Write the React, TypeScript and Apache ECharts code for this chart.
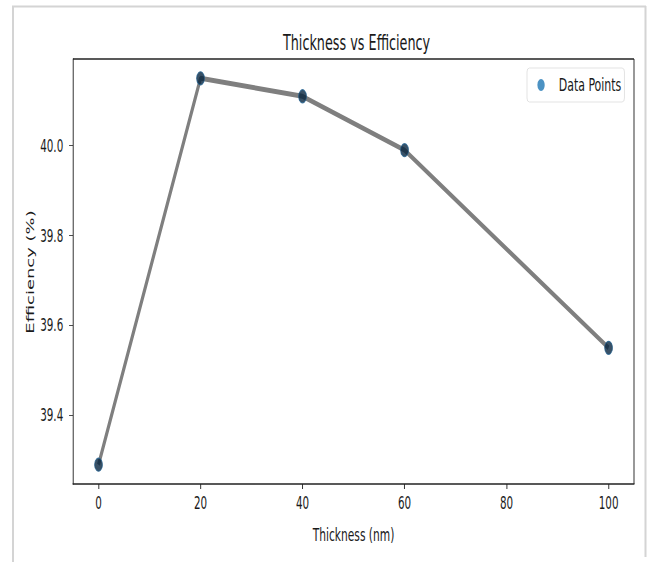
import React, { useEffect, useRef } from "react";
import * as echarts from "echarts";

const thickness = [0, 20, 40, 60, 100];
const efficiency = [39.29, 40.15, 40.11, 39.99, 39.55];
const xTicks = [0, 20, 40, 60, 80, 100];
const yTicks = [39.4, 39.6, 39.8, 40.0];

// The reference is horizontally compressed; render wider and squeeze with CSS.
const SQUEEZE = 0.61;
const OUT_W = 652;
const OUT_H = 562;
const IN_W = OUT_W / SQUEEZE;
const sx = (x: number) => x / SQUEEZE;

const FONT = "'DejaVu Sans', sans-serif";
const TXT = "#1a1a1a";

export default function App() {
  const ref = useRef<HTMLDivElement>(null);
  useEffect(() => {
    if (!ref.current) return;
    const chart = echarts.init(ref.current, undefined, { renderer: "svg" });
    const pts = thickness.map((t, i) => [t, efficiency[i]]);
    const gLeft = sx(73);
    const gRight = sx(OUT_W - 634);
    const gTop = 59;
    const gBottom = OUT_H - 484;
    const gW = IN_W - gLeft - gRight;
    const gH = OUT_H - gTop - gBottom;
    chart.setOption({
      animation: false,
      backgroundColor: "#ffffff",
      title: {
        text: "Thickness vs Efficiency",
        left: gLeft + gW / 2,
        textAlign: "center",
        top: 27,
        textStyle: { fontFamily: FONT, fontSize: 21, fontWeight: "normal", color: TXT },
      },
      legend: {
        left: sx(527),
        top: 68,
        padding: [8, 5, 8, 17],
        borderColor: "#dcdcdc",
        borderWidth: 1,
        borderRadius: 4,
        icon: "circle",
        itemWidth: 24,
        itemHeight: 12,
        textStyle: { fontFamily: FONT, fontSize: 18, color: TXT, padding: [0, 0, 0, 12] },
        data: [{ name: "Data Points", itemStyle: { color: "#1f77b4", borderWidth: 0 } }],
      },
      grid: { left: gLeft, top: gTop, right: gRight, bottom: gBottom, containLabel: false },
      xAxis: {
        type: "value",
        min: -5,
        max: 105,
        name: "Thickness (nm)",
        nameLocation: "middle",
        nameGap: 42,
        nameTextStyle: { fontFamily: FONT, fontSize: 17.5, color: TXT },
        axisLine: { show: true, onZero: false, lineStyle: { color: "#222", width: 1.5 } },
        axisTick: { show: true, length: 5, lineStyle: { color: "#222", width: 1.5 }, customValues: xTicks },
        axisLabel: {
          fontFamily: FONT,
          fontSize: 17,
          color: TXT,
          margin: 10,
          customValues: xTicks,
        },
        splitLine: { show: false },
      },
      yAxis: {
        type: "value",
        min: 39.247,
        max: 40.193,
        axisLine: { show: true, onZero: false, lineStyle: { color: "#222", width: 1.5 } },
        axisTick: { show: true, length: 6.5, lineStyle: { color: "#222", width: 1 }, customValues: yTicks },
        axisLabel: {
          fontFamily: FONT,
          fontSize: 17,
          color: TXT,
          margin: 16,
          customValues: yTicks,
          formatter: (v: number) => v.toFixed(1),
        },
        splitLine: { show: false },
      },
      graphic: [
        {
          type: "line",
          shape: { x1: sx(12), y1: 6.5, x2: sx(646), y2: 6.5 },
          style: { stroke: "#d4d4d4", lineWidth: 2 },
          silent: true,
          z: -10,
        },
        {
          type: "line",
          shape: { x1: sx(13), y1: 6, x2: sx(13), y2: OUT_H },
          style: { stroke: "#d4d4d4", lineWidth: 3.3 },
          silent: true,
          z: -10,
        },
        {
          type: "line",
          shape: { x1: sx(645.5), y1: 6, x2: sx(645.5), y2: 557 },
          style: { stroke: "#d4d4d4", lineWidth: 3.3 },
          silent: true,
          z: -10,
        },
        {
          type: "line",
          shape: { x1: gLeft, y1: gTop, x2: gLeft + gW, y2: gTop },
          style: { stroke: "#222", lineWidth: 1.5 },
          silent: true,
        },
        {
          type: "line",
          shape: { x1: gLeft + gW, y1: gTop, x2: gLeft + gW, y2: gTop + gH },
          style: { stroke: "#222", lineWidth: 1.5 },
          silent: true,
        },
        {
          type: "text",
          x: sx(30.5),
          y: 272,
          rotation: Math.PI / 2,
          style: {
            text: "Efficiency (%)",
            fontFamily: FONT,
            fontSize: 18,
            fill: TXT,
            align: "center",
            verticalAlign: "middle",
          },
        },
      ],
      series: [
        {
          name: "line",
          type: "line",
          data: pts,
          showSymbol: false,
          symbol: "none",
          lineStyle: { color: "#7f7f7f", width: 5 },
          z: 2,
          silent: true,
        },
        {
          name: "Data Points",
          type: "scatter",
          data: pts,
          symbol: "circle",
          symbolSize: 13,
          itemStyle: { color: "#082540", borderColor: "#1f5f8f", borderWidth: 1.2 },
          z: 3,
        },
      ],
    });
    return () => chart.dispose();
  }, []);
  return (
    <div style={{ position: "fixed", left: 0, top: 0, width: OUT_W, height: OUT_H, overflow: "hidden", background: "#fff" }}>
      <div
        ref={ref}
        style={{ width: IN_W, height: OUT_H, transform: `scaleX(${SQUEEZE})`, transformOrigin: "0 0" }}
      />
    </div>
  );
}
